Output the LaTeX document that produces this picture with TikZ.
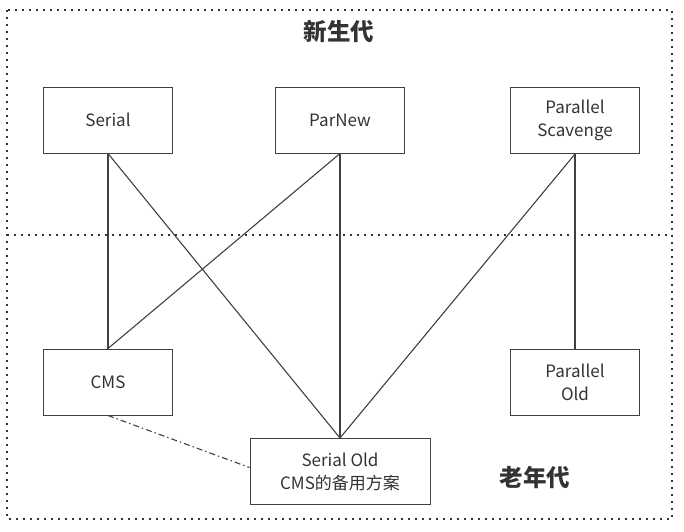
\documentclass[tikz,border=0pt]{standalone}
\usepackage{fontspec}
\setmainfont{Noto Sans CJK SC}
\usepackage{tikz}

\definecolor{linegray}{HTML}{404040}
\definecolor{textgray}{HTML}{333333}

\tikzset{
	gcbox/.style={rectangle, draw=linegray, line width=1pt, minimum width=129pt, minimum height=66pt, align=center, text=textgray, font=\fontsize{17}{23}\selectfont},
	region/.style={draw=textgray, line width=2.4pt, dash pattern=on 2.4pt off 4.6pt},
	title/.style={text=textgray, font=\fontsize{23.5}{28}\selectfont\bfseries}
}

\begin{document}
\begin{tikzpicture}[x=1pt, y=-1pt]
	\useasboundingbox (0,0) rectangle (684,531);
	\draw[region] (7,10) rectangle (672,519);
	\draw[region] (7,235) -- (672,235);
	\node (young) at (339,31) [title] {新生代};
	\node (old) at (535,478) [title] {老年代};
		\node (serial) at (108,120) [gcbox] {Serial};
		\node (parnew) at (340,120) [gcbox] {ParNew};
		\node (scavenge) at (575,120.5) [gcbox] {Parallel\\Scavenge};
			\node (cms) at (108,382) [gcbox] {CMS};
			\node (parold) at (575,382) [gcbox] {Parallel\\Old};
			\node (serialold) at (340,471.5) [gcbox, minimum width=180pt] {Serial Old\\CMS的备用方案};
	\draw[linegray, line width=1.1pt][-] (serial.south) to (cms.north);
	\draw[linegray, line width=1.1pt][-] (serial.south) to (serialold.north);
	\draw[linegray, line width=1.1pt][-] (parnew.south) to (cms.north);
	\draw[linegray, line width=1.1pt][-] (parnew.south) to (serialold.north);
	\draw[linegray, line width=1.1pt][-] (scavenge.south) to (serialold.north);
	\draw[linegray, line width=1.1pt][-] (scavenge.south) to (parold.north);
	\draw[linegray, line width=1.1pt, dash pattern=on 6pt off 3pt on 1.5pt off 3pt][-] (cms.south) to ([yshift=4pt]serialold.west);
\end{tikzpicture}
\end{document}
